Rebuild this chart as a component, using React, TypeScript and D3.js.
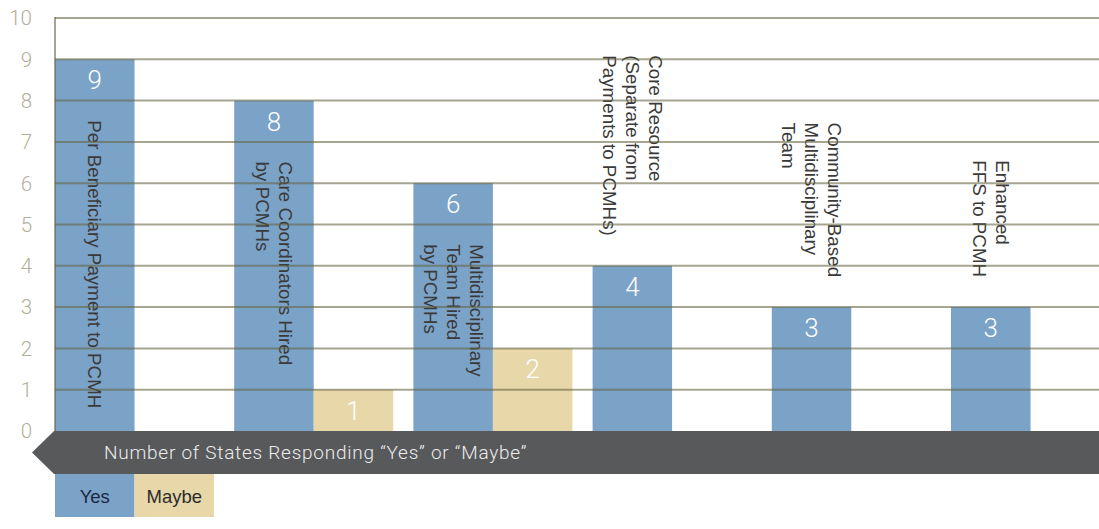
import React, { useMemo } from "react";
import * as d3 from "d3";

const categories = [
  "Per Beneficiary Payment to PCMH",
  "Care Coordinators Hired by PCMHs",
  "Multidisciplinary Team Hired by PCMHs",
  "Core Resource (Separate from Payments to PCMHs)",
  "Community-Based Multidisciplinary Team",
  "Enhanced FFS to PCMH",
];
const labelLines = [
  ["Per Beneficiary Payment to PCMH"],
  ["Care Coordinators Hired", "by PCMHs"],
  ["Multidisciplinary", "Team Hired", "by PCMHs"],
  ["Core Resource", "(Separate from", "Payments to PCMHs)"],
  ["Community-Based", "Multidisciplinary", "Team"],
  ["Enhanced", "FFS to PCMH"],
];
const yesValues = [9, 8, 6, 4, 3, 3];
const maybeValues = [0, 1, 2, 0, 0, 0];
const seriesKeys = ["Yes", "Maybe"];
const yTicks = [0, 1, 2, 3, 4, 5, 6, 7, 8, 9, 10];
const axisTitle = "Number of States Responding \u201CYes\u201D or \u201CMaybe\u201D";

const W = 1099;
const H = 529;
const BLUE = "#7ba2c7";
const TAN = "#e8d7a9";
const DARK = "#58595b";
const LABEL_FONT = "18.8px 'Liberation Sans', Arial, sans-serif";

export default function App() {
  const y = d3.scaleLinear().domain([0, 10]).range([431, 18]);
  const x0 = d3.scaleBand<string>().domain(categories).range([55, 1110]).paddingInner(0.1127).paddingOuter(0);
  const x1 = d3.scaleBand<string>().domain(seriesKeys).range([0, x0.bandwidth()]);

  const measure = useMemo(() => {
    const c = document.createElement("canvas").getContext("2d")!;
    c.font = LABEL_FONT;
    return (s: string) => c.measureText(s).width;
  }, []);

  const lineH = 23;
  const left = 55;
  const right = W;

  return (
    <svg width={W} height={H} style={{ position: "absolute", left: 0, top: 0, display: "block", background: "#fff" }}>
      {/* bars */}
      {categories.map((cat, i) => {
        const gx = x0(cat)!;
        const vals = [yesValues[i], maybeValues[i]];
        return (
          <g key={cat}>
            {vals.map((v, k) =>
              v > 0 ? (
                <g key={k}>
                  <rect x={gx + x1(seriesKeys[k])!} y={y(v)} width={x1.bandwidth()} height={y(0) - y(v)} fill={k === 0 ? BLUE : TAN} />
                  <text
                    x={gx + x1(seriesKeys[k])! + x1.bandwidth() / 2}
                    y={y(v) + 30}
                    textAnchor="middle"
                    fill="#fff"
                    style={{ font: "300 26px Roboto, 'Liberation Sans', sans-serif" }}
                  >
                    {v}
                  </text>
                </g>
              ) : null
            )}
          </g>
        );
      })}
      {/* category labels (rotated) */}
      {categories.map((cat, i) => {
        const cx = x0(cat)! + x1("Yes")! + x1.bandwidth() / 2;
        const lines = labelLines[i];
        const n = lines.length;
        const top = y(yesValues[i]);
        const inside = yesValues[i] >= 6;
        const maxLen = Math.max(...lines.map(measure));
        const startY = inside ? top + 61 : top - 30 - maxLen;
        return (
          <text
            key={cat}
            transform={`translate(${cx},${startY}) rotate(90)`}
            textAnchor="start"
            fill="#3a3a3a"
            style={{ font: LABEL_FONT }}
          >
            {lines.map((ln, j) => (
              <tspan key={j} x={0} y={(j - (n - 1) / 2) * lineH} dy="0.35em">
                {ln}
              </tspan>
            ))}
          </text>
        );
      })}
      {/* gridlines on top */}
      {yTicks
        .filter((t) => t > 0)
        .map((t) => (
          <line key={t} x1={left} x2={right} y1={y(t)} y2={y(t)} stroke="rgb(102,100,66)" strokeOpacity={0.58} strokeWidth={2} />
        ))}
      <line x1={left} x2={left} y1={y(10) - 1} y2={y(0)} stroke="rgb(102,100,66)" strokeOpacity={0.58} strokeWidth={2} />
      {/* y tick labels */}
      {yTicks.map((t) => (
        <text
          key={t}
          x={32}
          y={y(t)}
          dy="0.36em"
          textAnchor="end"
          fill="#b1af9a"
          style={{ font: "300 20.5px Roboto, 'Liberation Sans', sans-serif" }}
        >
          {t}
        </text>
      ))}
      {/* bottom banner */}
      <path d={`M32,452.5 L54,431 L${W},431 L${W},474 L54,474 Z`} fill={DARK} />
      <text
        x={104}
        y={458.5}
        fill="#ececec"
        style={{ font: "300 19px Roboto, 'Liberation Sans', sans-serif", letterSpacing: "0.75px" }}
      >
        {axisTitle}
      </text>
      {/* legend */}
      {seriesKeys.map((k, i) => (
        <g key={k}>
          <rect x={55 + i * 79.5} y={474} width={79.5} height={43} fill={i === 0 ? BLUE : TAN} />
          <text
            x={55 + i * 79.5 + 39.75}
            y={502.5}
            textAnchor="middle"
            fill={i === 0 ? "#1c2940" : "#2b2b2b"}
            style={{ font: "18.5px 'Liberation Sans', Arial, sans-serif" }}
          >
            {k}
          </text>
        </g>
      ))}
    </svg>
  );
}
